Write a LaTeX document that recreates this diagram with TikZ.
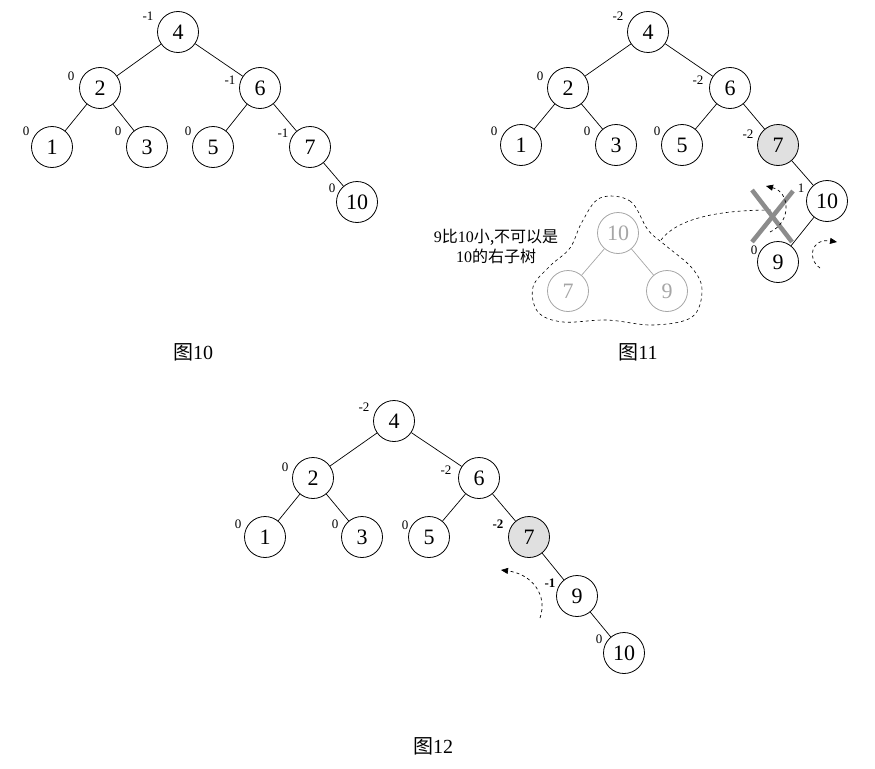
\documentclass[tikz,border=0pt]{standalone}
\usepackage{fontspec}
\setmainfont{Liberation Serif}
\newfontfamily\cjk{Noto Sans CJK SC}
\usetikzlibrary{arrows.meta}

\tikzset{
  tn/.style={circle,draw,line width=0.8pt,minimum size=41pt,inner sep=0pt,font=\fontsize{22}{22}\selectfont},
  hot/.style={tn,fill=black!12},
  ghost/.style={tn,draw=black!35,text=black!35},
  bal/.style={inner sep=0pt,font=\fontsize{13}{13}\selectfont},
  bbal/.style={bal,font=\fontsize{13}{13}\selectfont\bfseries},
  figcap/.style={inner sep=0pt,font=\fontsize{20}{20}\selectfont},
  tline/.style={line width=0.7pt},
  turn/.style={dashed,line width=0.7pt,-{Triangle[length=7pt,width=6pt]}}
}

\begin{document}
\begin{tikzpicture}[x=1pt,y=-1pt]
      \useasboundingbox (0,0) rectangle (875,768);

      % Fig 10 tree
      \node[tn] (a4) at (178, 32) {4};
      \node[tn] (a2) at (100, 88) {2};
      \node[tn] (a6) at (260, 88) {6};
      \node[tn] (a1) at (52, 147) {1};
      \node[tn] (a3) at (147, 147) {3};
      \node[tn] (a5) at (213, 147) {5};
      \node[tn] (a7) at (310, 147) {7};
      \node[tn] (a10) at (357, 202) {10};
      \draw[tline] (a4) -- (a2);
      \draw[tline] (a4) -- (a6);
      \draw[tline] (a2) -- (a1);
      \draw[tline] (a2) -- (a3);
      \draw[tline] (a6) -- (a5);
      \draw[tline] (a6) -- (a7);
      \draw[tline] (a7) -- (a10);

      \node[bal] (ab4) at (148, 16) {-1};
      \node[bal] (ab2) at (71, 76) {0};
      \node[bal] (ab6) at (230, 80) {-1};
      \node[bal] (ab1) at (26, 131) {0};
      \node[bal] (ab3) at (118, 131) {0};
      \node[bal] (ab5) at (188, 131) {0};
      \node[bal] (ab7) at (283, 133) {-1};
      \node[bal] (ab10) at (332, 188) {0};

      \node[figcap] (cap10) at (193, 352) {{\cjk 图}10};

      % Fig 11 tree
      \node[tn] (b4) at (648, 32) {4};
      \node[tn] (b2) at (568, 88) {2};
      \node[tn] (b6) at (730, 88) {6};
      \node[tn] (b1) at (521, 145) {1};
      \node[tn] (b3) at (616, 145) {3};
      \node[tn] (b5) at (682, 145) {5};
      \node[hot] (b7) at (778, 145) {7};
      \node[tn] (b10) at (827, 201) {10};
      \node[tn] (b9) at (778, 262) {9};
      \draw[tline] (b4) -- (b2);
      \draw[tline] (b4) -- (b6);
      \draw[tline] (b2) -- (b1);
      \draw[tline] (b2) -- (b3);
      \draw[tline] (b6) -- (b5);
      \draw[tline] (b6) -- (b7);
      \draw[tline] (b7) -- (b10);
      \draw[tline] (b10) -- (b9);

      \node[bal] (bb4) at (618, 16) {-2};
      \node[bal] (bb2) at (540, 76) {0};
      \node[bal] (bb6) at (698, 80) {-2};
      \node[bal] (bb1) at (494, 131) {0};
      \node[bal] (bb3) at (587, 131) {0};
      \node[bal] (bb5) at (657, 131) {0};
      \node[bal] (bb7) at (748, 134) {-2};
      \node[bal] (bb10) at (801, 188) {1};
      \node[bal] (bb9) at (754, 250) {0};

      % wrong placement: 9 as right child of 10
      \draw[dashed,line width=0.6pt] plot[smooth cycle,tension=0.6] coordinates {
        (600,198) (630,201) (648,230) (665,245) (692,268) (702,290)
        (692,317) (653,325) (607,320) (563,322) (538,312) (533,287)
        (550,266) (570,248) (582,222)};
      \node[ghost] (g10) at (618, 233) {10};
      \node[ghost] (g7) at (568, 291) {7};
      \node[ghost] (g9) at (667, 291) {9};
      \draw[tline,black!35] (g10) -- (g7);
      \draw[tline,black!35] (g10) -- (g9);
      \node[align=center,inner sep=0pt,font=\fontsize{16}{20}\selectfont] (note) at (496, 246)
        {9{\cjk 比}10{\cjk 小,不可以是}\\10{\cjk 的右子树}};

      \coordinate (cl) at (661, 240);
      \coordinate (xc) at (772, 210);
      \draw[dashed,line width=0.6pt] (cl) .. controls (680, 215) and (730, 210) .. (xc);

      % cross over the bad link
      \draw[line width=4.5pt,black!45] (752,190) -- (792,242);
      \draw[line width=4.5pt,black!45] (793,191) -- (752,242);

      % rotation arrows
      \coordinate (r1s) at (770, 232);
      \coordinate (r1e) at (766, 186);
      \draw[turn] (r1s) .. controls (792, 222) and (790, 192) .. (r1e);
      \coordinate (r2s) at (820, 268);
      \coordinate (r2e) at (837, 242);
      \draw[turn] (r2s) .. controls (806, 258) and (812, 238) .. (r2e);

      \node[figcap] (cap11) at (638, 352) {{\cjk 图}11};

      % Fig 12 tree
      \node[tn] (c4) at (394, 421) {4};
      \node[tn] (c2) at (313, 478) {2};
      \node[tn] (c6) at (479, 478) {6};
      \node[tn] (c1) at (265, 537) {1};
      \node[tn] (c3) at (362, 537) {3};
      \node[tn] (c5) at (429, 537) {5};
      \node[hot] (c7) at (529, 537) {7};
      \node[tn] (c9) at (577, 596) {9};
      \node[tn] (c10) at (624, 653) {10};
      \draw[tline] (c4) -- (c2);
      \draw[tline] (c4) -- (c6);
      \draw[tline] (c2) -- (c1);
      \draw[tline] (c2) -- (c3);
      \draw[tline] (c6) -- (c5);
      \draw[tline] (c6) -- (c7);
      \draw[tline] (c7) -- (c9);
      \draw[tline] (c9) -- (c10);

      \node[bal] (cb4) at (364, 407) {-2};
      \node[bal] (cb2) at (285, 467) {0};
      \node[bal] (cb6) at (446, 470) {-2};
      \node[bal] (cb1) at (238, 524) {0};
      \node[bal] (cb3) at (335, 524) {0};
      \node[bal] (cb5) at (405, 525) {0};
      \node[bbal] (cb7) at (498, 524) {-2};
      \node[bbal] (cb9) at (550, 583) {-1};
      \node[bal] (cb10) at (599, 639) {0};

      \coordinate (r3s) at (540, 618);
      \coordinate (r3e) at (501, 570);
      \draw[turn] (r3s) .. controls (548, 595) and (532, 574) .. (r3e);

      \node[figcap] (cap12) at (433, 746) {{\cjk 图}12};
\end{tikzpicture}
\end{document}
